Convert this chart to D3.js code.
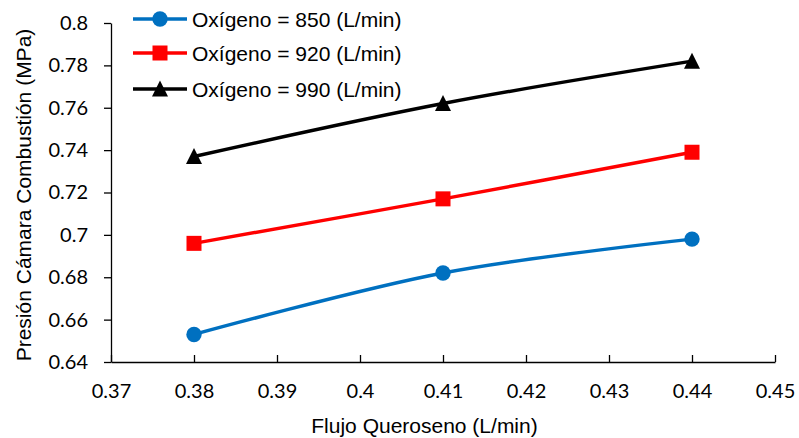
<!DOCTYPE html>
<html>
<head>
<meta charset="utf-8">
<script src="https://cdn.jsdelivr.net/npm/d3@7"></script>
<style>
  body { margin: 0; background: #fff; }
  svg { display: block; }
</style>
</head>
<body>
<svg id="chart" width="799" height="438"></svg>
<script>
// Kerosene flow (L/min) on the x axis
const flujo = [0.38, 0.41, 0.44];
// Chamber pressure (MPa) for each oxygen flow
const presion850 = [0.653, 0.682, 0.698];
const presion920 = [0.696, 0.717, 0.739];
const presion990 = [0.737, 0.762, 0.782];
const seriesNames = ["Oxígeno = 850 (L/min)", "Oxígeno = 920 (L/min)", "Oxígeno = 990 (L/min)"];
const xTicks = [0.37, 0.38, 0.39, 0.4, 0.41, 0.42, 0.43, 0.44, 0.45];
const yTicks = [0.64, 0.66, 0.68, 0.7, 0.72, 0.74, 0.76, 0.78, 0.8];

const series = [
  { name: seriesNames[0], values: presion850, color: "#0070C0", marker: "circle" },
  { name: seriesNames[1], values: presion920, color: "#FF0000", marker: "square" },
  { name: seriesNames[2], values: presion990, color: "#000000", marker: "triangle" }
];

const svg = d3.select("#chart");
const plotLeft = 111, plotRight = 775, plotTop = 23, plotBottom = 362;

const x = d3.scaleLinear().domain([0.37, 0.45]).range([plotLeft, plotRight]);
const y = d3.scaleLinear().domain([0.64, 0.8]).range([plotBottom, plotTop]);

const tickFont = "Lato, 'Open Sans', sans-serif";
const textFont = "'Liberation Sans', Arial, sans-serif";

// X axis
const xAxis = svg.append("g")
  .attr("transform", `translate(0,${plotBottom})`)
  .call(d3.axisBottom(x).tickValues(xTicks).tickSizeOuter(0).tickSizeInner(-7).tickPadding(22)
    .tickFormat(d => String(+d.toFixed(2))));
xAxis.select(".domain").attr("stroke", "#000").attr("stroke-width", 1.3);
xAxis.selectAll(".tick line").attr("stroke", "#000").attr("stroke-width", 1.3);
xAxis.selectAll("text").attr("font-family", tickFont).attr("font-size", 20).attr("fill", "#000");

// Y axis
const yAxis = svg.append("g")
  .attr("transform", `translate(${plotLeft},0)`)
  .call(d3.axisLeft(y).tickValues(yTicks).tickSizeOuter(0).tickSizeInner(7).tickPadding(16)
    .tickFormat(d => String(+d.toFixed(2))));
yAxis.select(".domain").attr("stroke", "#000").attr("stroke-width", 1.3);
yAxis.selectAll(".tick line").attr("stroke", "#000").attr("stroke-width", 1.3);
yAxis.selectAll("text").attr("font-family", tickFont).attr("font-size", 20).attr("fill", "#000");

// Axis titles
svg.append("text")
  .attr("x", 424.5).attr("y", 433)
  .attr("text-anchor", "middle")
  .attr("font-family", textFont).attr("font-size", 21).attr("fill", "#000")
  .text("Flujo Queroseno (L/min)");

svg.append("text")
  .attr("transform", "translate(31,195) rotate(-90)")
  .attr("text-anchor", "middle")
  .attr("font-family", textFont).attr("font-size", 21).attr("fill", "#000")
  .text("Presión Cámara Combustión (MPa)");

// Marker drawing helper
function drawMarker(g, type, cx, cy, color) {
  if (type === "circle") {
    g.append("circle").attr("cx", cx).attr("cy", cy).attr("r", 7.7).attr("fill", color);
  } else if (type === "square") {
    g.append("rect").attr("x", cx - 7.5).attr("y", cy - 7.5).attr("width", 15).attr("height", 15).attr("fill", color);
  } else {
    g.append("path")
      .attr("d", `M${cx},${cy - 8.5}L${cx + 8},${cy + 7.5}L${cx - 8},${cy + 7.5}Z`)
      .attr("fill", color);
  }
}

// Smoothed lines
const line = d3.line()
  .x(d => x(d[0]))
  .y(d => y(d[1]))
  .curve(d3.curveCardinal.tension(0));

series.forEach(s => {
  const pts = flujo.map((f, i) => [f, s.values[i]]);
  svg.append("path")
    .datum(pts)
    .attr("d", line)
    .attr("fill", "none")
    .attr("stroke", s.color)
    .attr("stroke-width", 3.4)
    .attr("stroke-linejoin", "round");
  const g = svg.append("g");
  pts.forEach(p => drawMarker(g, s.marker, x(p[0]), y(p[1]), s.color));
});

// Legend
const legendY = [19, 53, 89];
series.forEach((s, i) => {
  const g = svg.append("g");
  g.append("line")
    .attr("x1", 133).attr("x2", 187)
    .attr("y1", legendY[i]).attr("y2", legendY[i])
    .attr("stroke", s.color).attr("stroke-width", 3.4);
  drawMarker(g, s.marker, 160, legendY[i], s.color);
  g.append("text")
    .attr("x", 192).attr("y", legendY[i] + 8)
    .attr("font-family", textFont).attr("font-size", 21).attr("fill", "#000")
    .text(s.name);
});
</script>
</body>
</html>
